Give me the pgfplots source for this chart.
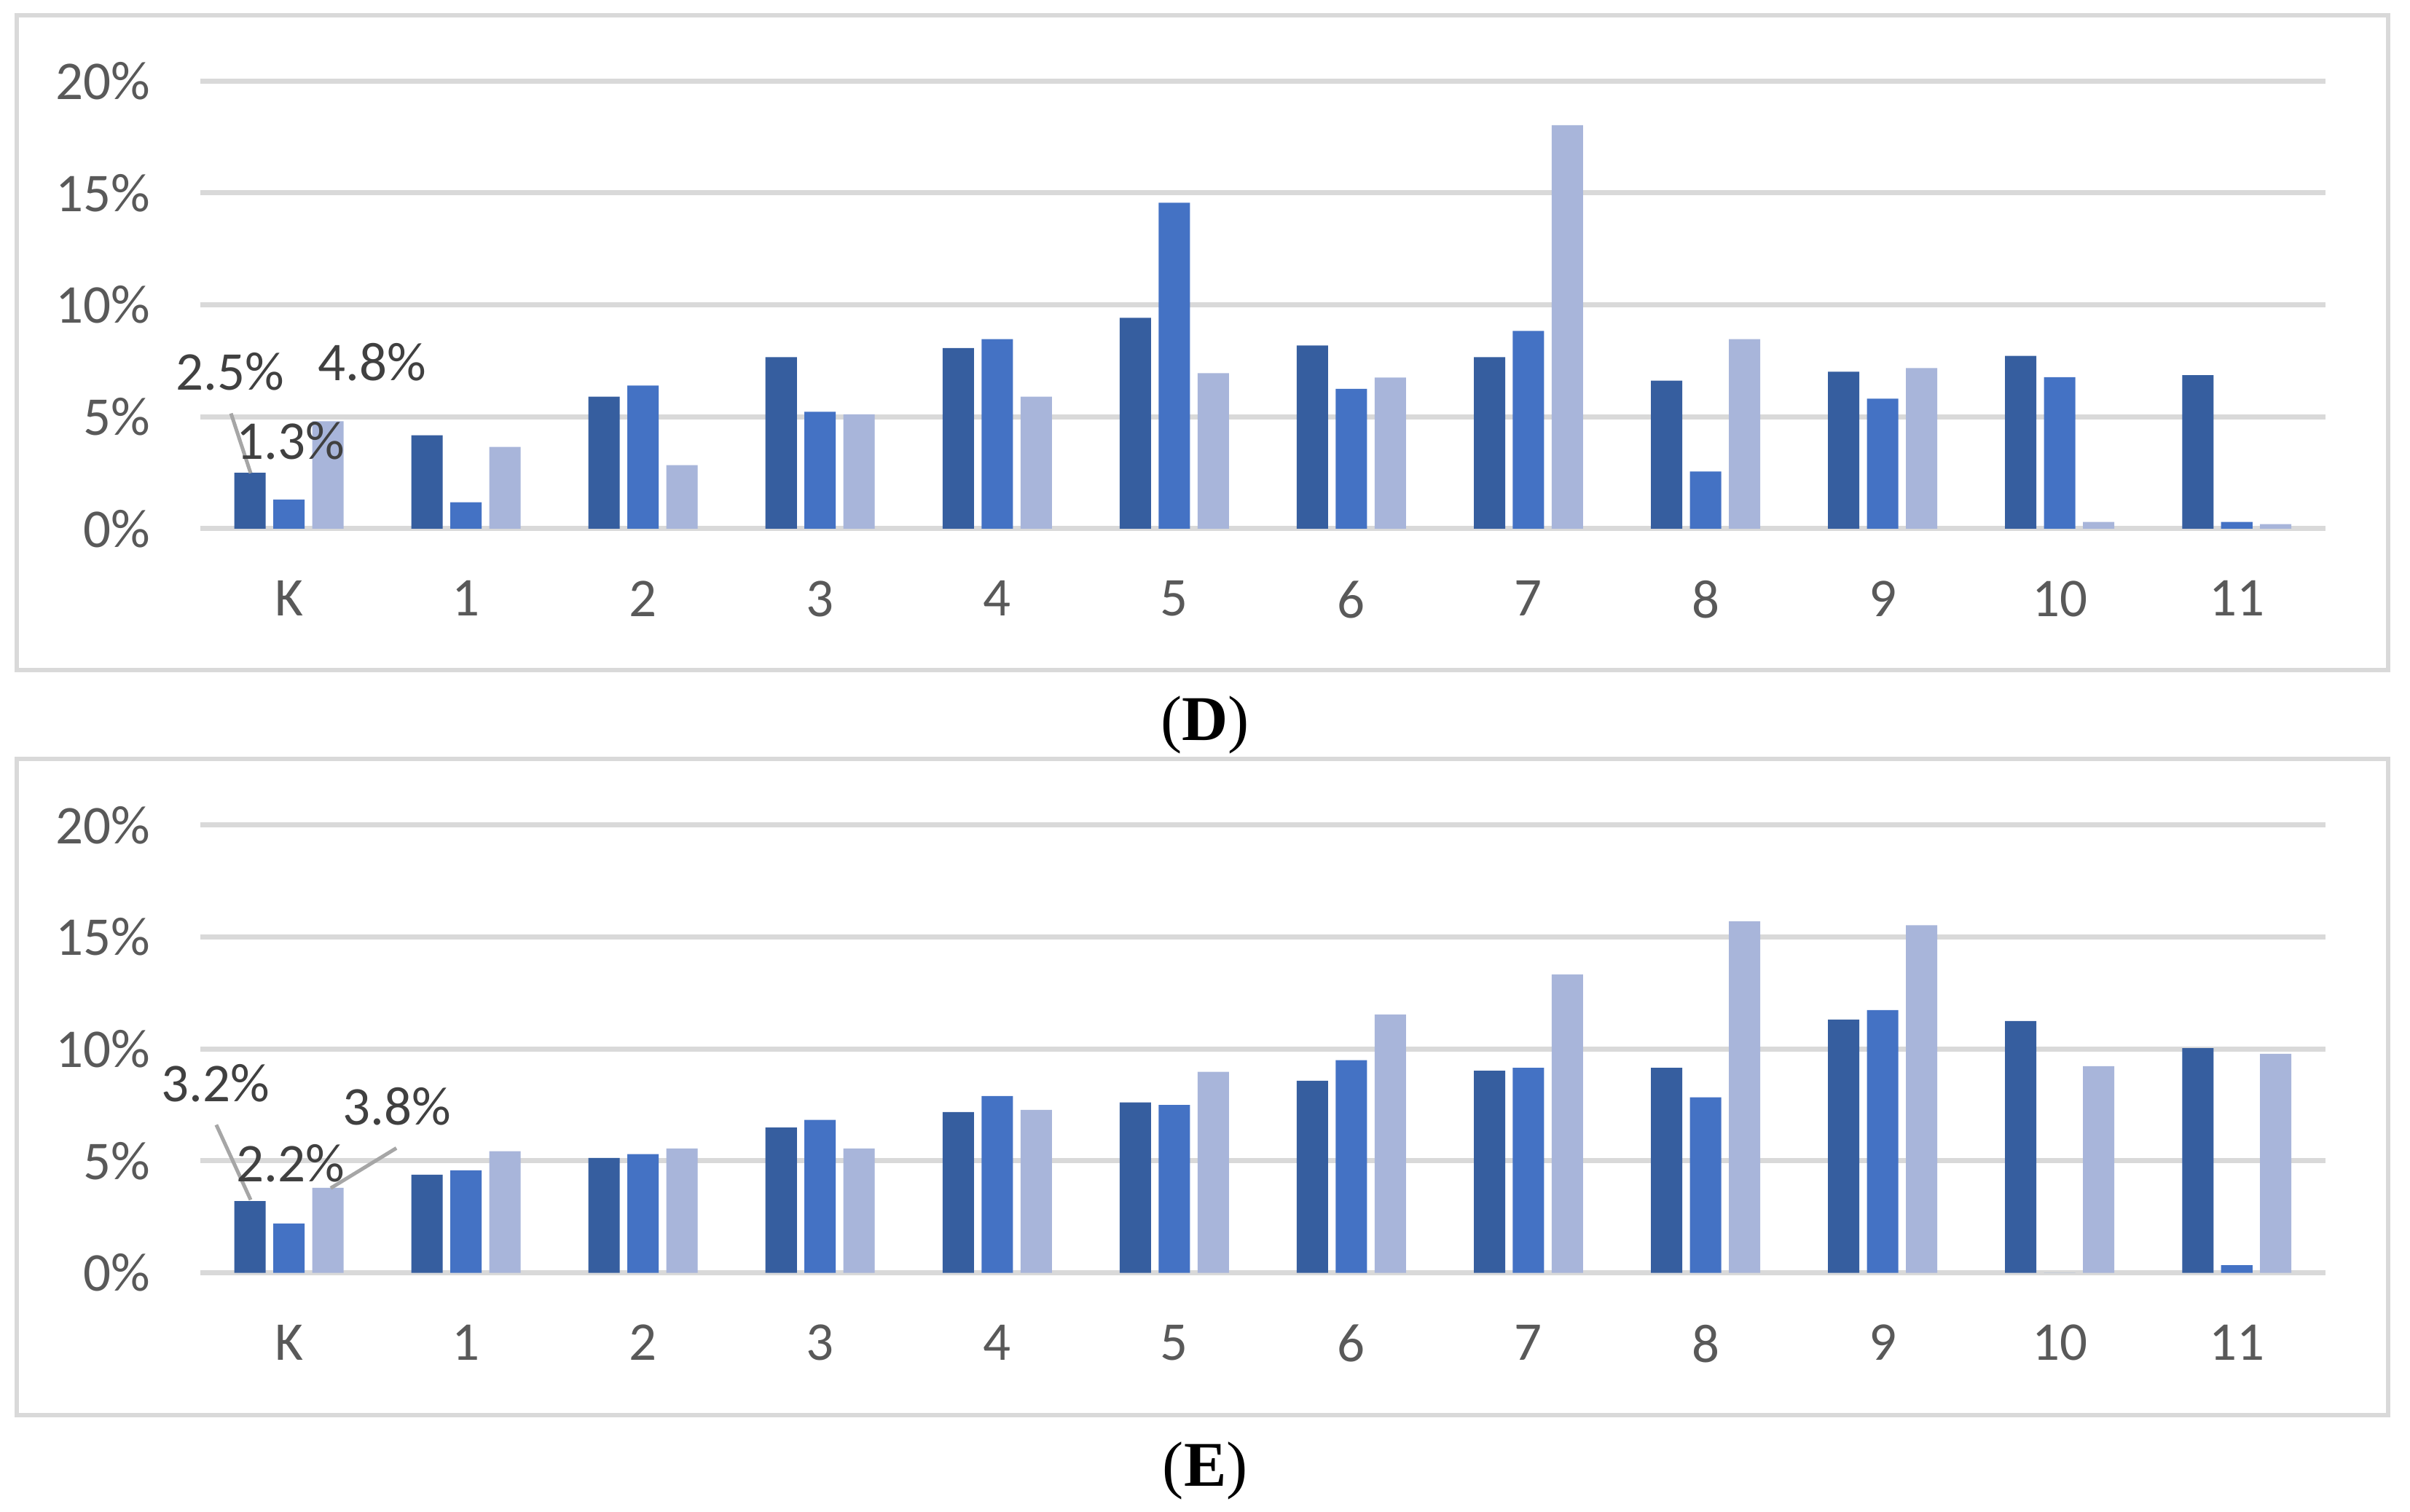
\documentclass[border=0pt]{standalone}
\usepackage{fontspec}
\setmainfont{Carlito}
\newfontfamily\capfont{Liberation Serif}
\usepackage{pgfplots}
\usepackage{pgfplotstable}
\pgfplotsset{compat=1.18}

\definecolor{sdark}{HTML}{365E9F}
\definecolor{smid}{HTML}{4472C4}
\definecolor{slight}{HTML}{A8B5DA}
\definecolor{gridgray}{HTML}{D9D9D9}
\definecolor{tickgray}{HTML}{595959}
\definecolor{labgray}{HTML}{404040}
\definecolor{leadgray}{HTML}{A6A6A6}

% panel D
\pgfplotstableread{
x  a     b     c
0  2.5   1.3   4.8
1  4.17  1.18  3.65
2  5.90  6.39  2.84
3  7.66  5.22  5.11
4  8.07  8.47  5.90
5  9.42  14.56 6.95
6  8.18  6.25  6.75
7  7.66  8.83  18.03
8  6.61  2.55  8.47
9  7.01  5.81  7.17
10 7.72  6.77  0.30
11 6.86  0.30  0.20
}\dataD

% panel E
\pgfplotstableread{
x  a     b     c
0  3.2   2.2   3.8
1  4.38  4.58  5.43
2  5.13  5.30  5.55
3  6.49  6.83  5.55
4  7.18  7.90  7.28
5  7.61  7.50  8.98
6  8.58  9.50  11.54
7  9.03  9.16  13.33
8  9.16  7.84  15.71
9  11.31 11.74 15.53
10 11.25 0     9.23
11 10.04 0.34  9.78
}\dataE

\pgfplotsset{
  panel/.style={
    scale only axis, width=700bp, height=147.5bp, anchor=south west,
    xmin=-0.5, xmax=11.5, ymin=0, ymax=20,
    ybar, bar width=0.177,
    xtick={0,...,11}, xticklabels={K,1,2,3,4,5,6,7,8,9,10,11},
    ytick={0,5,10,15,20},
    yticklabel={\pgfmathprintnumber{\tick}\%},
    /pgf/number format/assume math mode=true,
    axis line style={draw=none},
    major tick length=0pt,
    ymajorgrids, grid style={draw=gridgray, line width=1.7bp},
    tick label style={font=\fontsize{18bp}{21bp}\selectfont, text=tickgray, inner sep=0pt},
    xticklabel style={anchor=north, yshift=-17bp},
    yticklabel style={anchor=east, xshift=-16.3bp},
    clip=false,
  },
}
\tikzset{
  lab/.style={font=\fontsize{18bp}{21bp}\selectfont, text=labgray, inner sep=0pt},
  leader/.style={draw=leadgray, line width=1.2bp},
}

\begin{document}
\begin{tikzpicture}
\path[use as bounding box] (0,0) rectangle (793.9bp,498bp);

\draw[gridgray, line width=1.5bp] (5.5bp,277.2bp) rectangle (786.7bp,493bp);
\draw[gridgray, line width=1.5bp] (5.5bp,31.7bp) rectangle (786.7bp,247.9bp);

\begin{axis}[panel, at={(66bp,323.8bp)}]
\addplot[fill=sdark, draw=none, bar shift=-0.22] table[x=x, y=a] {\dataD};
\addplot[fill=smid, draw=none, bar shift=0] table[x=x, y=b] {\dataD};
\addplot[fill=slight, draw=none, bar shift=0.22] table[x=x, y=c] {\dataD};
\draw[leader] (axis cs:-0.327,5.15) -- (axis cs:-0.216,2.48);
\node[lab] at (axis cs:-0.331,7.0) {2.5\%};
\node[lab] at (axis cs:0.010,3.91) {1.3\%};
\node[lab] at (axis cs:0.471,7.43) {4.8\%};
\end{axis}

\begin{axis}[panel, at={(66bp,78.6bp)}]
\addplot[fill=sdark, draw=none, bar shift=-0.22] table[x=x, y=a] {\dataE};
\addplot[fill=smid, draw=none, bar shift=0] table[x=x, y=b] {\dataE};
\addplot[fill=slight, draw=none, bar shift=0.22] table[x=x, y=c] {\dataE};
\draw[leader] (axis cs:-0.41,6.61) -- (axis cs:-0.216,3.26);
\draw[leader] (axis cs:0.607,5.57) -- (axis cs:0.236,3.78);
\node[lab] at (axis cs:-0.414,8.46) {3.2\%};
\node[lab] at (axis cs:0.010,4.89) {2.2\%};
\node[lab] at (axis cs:0.611,7.42) {3.8\%};
\end{axis}

\node[font=\capfont\fontsize{21bp}{25bp}\selectfont] at (397bp,259.1bp) {(\textbf{D})};
\node[font=\capfont\fontsize{21bp}{25bp}\selectfont] at (397bp,13.4bp) {(\textbf{E})};
\end{tikzpicture}
\end{document}
